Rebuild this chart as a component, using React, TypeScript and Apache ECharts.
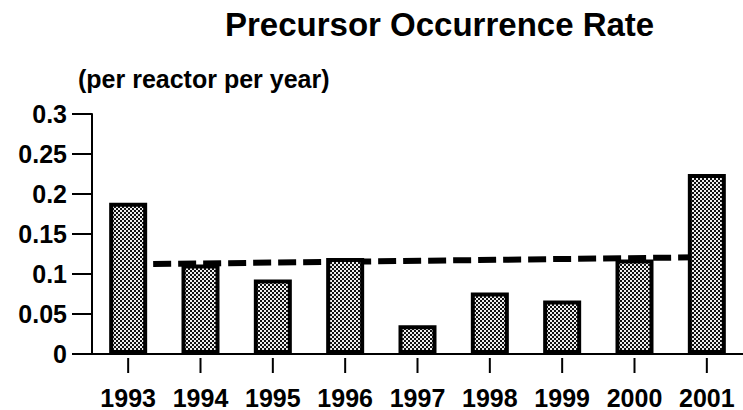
import React, { useEffect, useRef } from "react";
import * as echarts from "echarts";

const years = ["1993", "1994", "1995", "1996", "1997", "1998", "1999", "2000", "2001"];
const rates = [0.189, 0.112, 0.093, 0.12, 0.036, 0.077, 0.067, 0.118, 0.225];
const trendYears = ["1993", "2001"];
const trendValues = [0.112, 0.121];
const yTicks = { min: 0, max: 0.3, interval: 0.05 };
const titleText = "Precursor Occurrence Rate";
const unitText = "(per reactor per year)";

function makePattern(): HTMLCanvasElement {
  const c = document.createElement("canvas");
  c.width = 4;
  c.height = 4;
  const ctx = c.getContext("2d")!;
  ctx.fillStyle = "#eeeeee";
  ctx.fillRect(0, 0, 4, 4);
  ctx.fillStyle = "#111";
  ctx.fillRect(0, 0, 2, 2);
  ctx.fillRect(2, 2, 2, 2);
  return c;
}

export default function App() {
  const ref = useRef<HTMLDivElement>(null);
  useEffect(() => {
    if (!ref.current) return;
    const chart = echarts.init(ref.current, undefined, { renderer: "svg" });
    const font = "'Liberation Sans', Arial, sans-serif";
    const pattern = makePattern();
    chart.setOption({
      animation: false,
      backgroundColor: "#fff",
      textStyle: { fontFamily: font },
      grid: { left: 92, top: 114, width: 657, height: 241 },
      graphic: [
        {
          type: "text",
          left: 225,
          top: 8,
          style: { text: titleText, font: `bold 33px ${font}`, fill: "#000" },
        },
        {
          type: "text",
          left: 78,
          top: 66,
          style: { text: unitText, font: `bold 25px ${font}`, fill: "#000" },
        },
      ],
      xAxis: {
        type: "category",
        data: years,
        axisLine: { show: true, onZero: false, lineStyle: { color: "#000", width: 2 } },
        axisTick: { show: false },
        axisLabel: {
          color: "#000",
          fontSize: 25,
          fontWeight: "bold",
          margin: 31,
          interval: 0,
          fontFamily: font,
        },
      },
      yAxis: {
        type: "value",
        min: yTicks.min,
        max: yTicks.max,
        interval: yTicks.interval,
        splitLine: { show: false },
        axisLine: { show: true, lineStyle: { color: "#000", width: 2 } },
        axisTick: { show: true, length: 20, lineStyle: { color: "#000", width: 2 } },
        axisLabel: { color: "#000", fontSize: 25, fontWeight: "bold", margin: 25, fontFamily: font },
      },
      series: [
        {
          type: "line",
          data: trendYears.map((y, i) => [y, trendValues[i]]),
          symbol: "none",
          z: 1,
          lineStyle: { color: "#000", width: 6, type: [18, 7] },
        },
        {
          type: "bar",
          data: rates,
          barWidth: 38,
          z: 3,
          itemStyle: {
            color: { image: pattern, repeat: "repeat" },
            borderColor: "#000",
            borderWidth: 4,
          },
        },
        {
          type: "custom",
          data: years.map((y) => [y, 0]),
          z: 4,
          silent: true,
          clip: false,
          renderItem: (params: any, api: any) => {
            const p = api.coord([api.value(0), 0]);
            return {
              type: "line",
              shape: { x1: p[0], y1: p[1] + 4, x2: p[0], y2: p[1] + 19 },
              style: { stroke: "#000", lineWidth: 2 },
            };
          },
        },
      ],
    });
    return () => chart.dispose();
  }, []);
  return (
    <div
      ref={ref}
      style={{ position: "fixed", left: 0, top: 0, width: 743, height: 410, background: "#fff" }}
    />
  );
}
